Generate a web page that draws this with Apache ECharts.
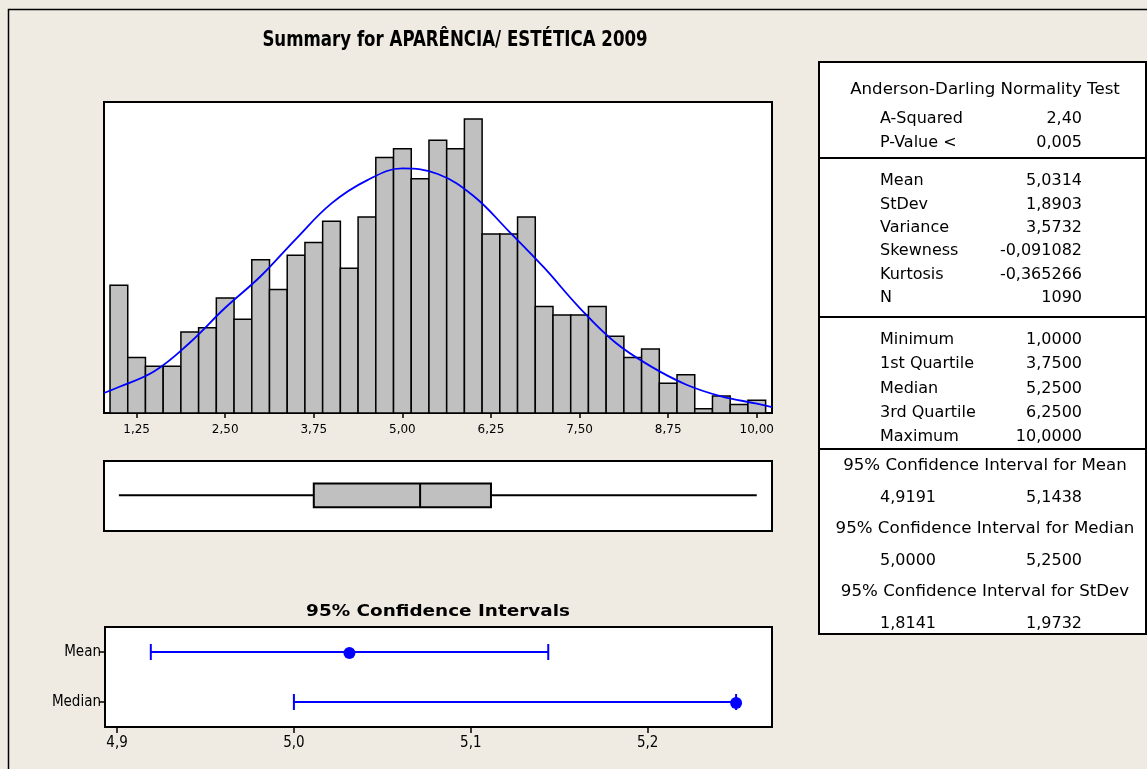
<!DOCTYPE html>
<html>
<head>
<meta charset="utf-8">
<script src="https://cdn.jsdelivr.net/npm/echarts@6/dist/echarts.min.js"></script>
<style>
  html, body { margin: 0; padding: 0; background: #efebe2; }
  #chart { width: 1147px; height: 769px; }
</style>
</head>
<body>
<div id="chart"></div>
<script>
// histogram: bin centres and counts (N = 1090)
var binWidth = 0.25;
var binCentres = [1.00, 1.25, 1.50, 1.75, 2.00, 2.25, 2.50, 2.75, 3.00, 3.25,
  3.50, 3.75, 4.00, 4.25, 4.50, 4.75, 5.00, 5.25, 5.50, 5.75, 6.00, 6.25,
  6.50, 6.75, 7.00, 7.25, 7.50, 7.75, 8.00, 8.25, 8.50, 8.75, 9.00, 9.25,
  9.50, 9.75, 10.00];
var binCounts = [30, 13, 11, 11, 19, 20, 27, 22, 36, 29, 37, 40, 45, 34, 46,
  60, 62, 55, 64, 62, 69, 42, 42, 46, 25, 23, 23, 25, 18, 13, 15, 7, 9, 1, 4, 2, 3];

// fitted normal curve
var curveX = [0.79, 1.0, 1.5, 2.0, 2.5, 3.0, 3.5, 4.0, 4.5, 5.0, 5.5, 6.0,
  6.5, 7.0, 7.5, 8.0, 8.5, 9.0, 9.5, 10.0, 10.215];
var curveY = [4.7, 6.1, 9.8, 16.5, 24.7, 32.1, 40.9, 49.2, 54.6, 57.4, 56.1,
  51.0, 42.7, 34.1, 24.7, 16.6, 11.0, 6.7, 3.9, 2.2, 1.4];

var histTicks = [1.25, 2.50, 3.75, 5.00, 6.25, 7.50, 8.75, 10.00];

// boxplot: min, Q1, median, Q3, max
var boxStats = [1.0, 3.75, 5.25, 6.25, 10.0];

// 95% confidence intervals: low, high, estimate
var ciNames = ['Median', 'Mean'];
var ciLow = [5.0, 4.9191];
var ciHigh = [5.25, 5.1438];
var ciEst = [5.25, 5.0314];
var ciTicks = [4.9, 5.0, 5.1, 5.2];

// summary table
var adLabels = ['A-Squared', 'P-Value <'];
var adValues = ['2,40', '0,005'];
var momLabels = ['Mean', 'StDev', 'Variance', 'Skewness', 'Kurtosis', 'N'];
var momValues = ['5,0314', '1,8903', '3,5732', '-0,091082', '-0,365266', '1090'];
var qLabels = ['Minimum', '1st Quartile', 'Median', '3rd Quartile', 'Maximum'];
var qValues = ['1,0000', '3,7500', '5,2500', '6,2500', '10,0000'];
var ciTitles = ['95% Confidence Interval for Mean', '95% Confidence Interval for Median',
  '95% Confidence Interval for StDev'];
var ciTableLow = ['4,9191', '5,0000', '1,8141'];
var ciTableHigh = ['5,1438', '5,2500', '1,9732'];

var narrow = "'Liberation Sans Narrow', 'DejaVu Sans Condensed', sans-serif";
var tableFont = "16px 'DejaVu Sans', sans-serif";

function comma(v, d) {
  return v.toFixed(d).replace('.', ',');
}

function txt(s, x, y, align, font, sx) {
  return {
    type: 'text', x: x, y: y, silent: true, scaleX: sx || 1,
    style: {
      text: s, fill: '#000', font: font || tableFont,
      align: align, textAlign: align, verticalAlign: 'middle', textVerticalAlign: 'middle'
    }
  };
}

function hline(y) {
  return { type: 'line', silent: true, shape: { x1: 819, y1: y, x2: 1146, y2: y },
    style: { stroke: '#000', lineWidth: 2 } };
}

// build table graphics
var tableEls = [];
tableEls.push({ type: 'rect', silent: true, shape: { x: 819, y: 62, width: 327, height: 572 },
  style: { fill: '#fff', stroke: '#000', lineWidth: 2 } });
tableEls.push(txt('Anderson-Darling Normality Test', 985, 90, 'center', null, 1.04));
adLabels.forEach(function (l, i) {
  tableEls.push(txt(l, 880, 119 + i * 24, 'left'));
  tableEls.push(txt(adValues[i], 1082, 119 + i * 24, 'right'));
});
tableEls.push(hline(158));
momLabels.forEach(function (l, i) {
  tableEls.push(txt(l, 880, 181 + i * 23.4, 'left'));
  tableEls.push(txt(momValues[i], 1082, 181 + i * 23.4, 'right'));
});
tableEls.push(hline(317));
qLabels.forEach(function (l, i) {
  tableEls.push(txt(l, 880, 340 + i * 24.2, 'left'));
  tableEls.push(txt(qValues[i], 1082, 340 + i * 24.2, 'right'));
});
tableEls.push(hline(449));
ciTitles.forEach(function (t, i) {
  var y0 = 466 + i * 63;
  tableEls.push(txt(t, 985, y0, 'center', null, 1.04));
  tableEls.push(txt(ciTableLow[i], 880, y0 + 32, 'left'));
  tableEls.push(txt(ciTableHigh[i], 1082, y0 + 32, 'right'));
});

var chart = echarts.init(document.getElementById('chart'));

var option = {
  backgroundColor: '#efebe2',
  animation: false,
  grid: [
    { left: 104, top: 102, width: 668, height: 311, show: true, backgroundColor: '#fff',
      borderColor: '#000', borderWidth: 2 },
    { left: 104, top: 461, width: 668, height: 70, show: true, backgroundColor: '#fff',
      borderColor: '#000', borderWidth: 2 },
    { left: 105, top: 627, width: 667, height: 100, show: true, backgroundColor: '#fff',
      borderColor: '#000', borderWidth: 2 }
  ],
  xAxis: [
    { type: 'value', gridIndex: 0, min: 0.79, max: 10.215,
      splitLine: { show: false },
      axisLine: { show: true, lineStyle: { color: '#000', width: 2 } },
      axisTick: { show: true, length: 5, customValues: histTicks, lineStyle: { color: '#000', width: 1.5 } },
      axisLabel: { customValues: histTicks, margin: 11, color: '#000',
        fontFamily: 'DejaVu Sans', fontSize: 12,
        formatter: function (v) { return comma(v, 2); } } },
    { type: 'value', gridIndex: 1, min: 0.79, max: 10.215, show: false },
    { type: 'value', gridIndex: 2, min: 4.8932, max: 5.2703,
      splitLine: { show: false },
      axisLine: { show: true, lineStyle: { color: '#000', width: 2 } },
      axisTick: { show: true, length: 6, customValues: ciTicks, lineStyle: { color: '#000', width: 1.5 } },
      axisLabel: { customValues: ciTicks, margin: 9, color: '#000',
        fontFamily: narrow, fontSize: 15,
        formatter: function (v) { return comma(v, 1); } } }
  ],
  yAxis: [
    { type: 'value', gridIndex: 0, min: 0, max: 73, show: false },
    { type: 'value', gridIndex: 1, min: 0, max: 1, show: false },
    { type: 'category', gridIndex: 2, data: ciNames,
      axisLine: { show: true, lineStyle: { color: '#000', width: 2 } },
      axisTick: { show: true, length: 6, alignWithLabel: true, lineStyle: { color: '#000', width: 1.5 } },
      axisLabel: { color: '#000', fontFamily: narrow, fontSize: 15, margin: 4 } }
  ],
  graphic: [
    { type: 'rect', silent: true, shape: { x: 8.5, y: 9.5, width: 1200, height: 800 },
      style: { fill: 'none', stroke: '#000', lineWidth: 1.5 } },
    txt('Summary for APARÊNCIA/ ESTÉTICA 2009', 455, 41, 'center',
      "bold 21px " + narrow, 0.88),
    txt('95% Confidence Intervals', 438, 612, 'center',
      "bold 16px 'DejaVu Sans', sans-serif", 1.15)
  ].concat(tableEls),
  series: [
    {
      type: 'custom', xAxisIndex: 0, yAxisIndex: 0, clip: true,
      data: binCentres.map(function (c, i) { return [c, binCounts[i]]; }),
      renderItem: function (params, api) {
        var x = api.value(0), n = api.value(1);
        var p0 = api.coord([x - binWidth / 2, n]);
        var p1 = api.coord([x + binWidth / 2, 0]);
        return { type: 'rect',
          shape: { x: p0[0], y: p0[1], width: p1[0] - p0[0], height: p1[1] - p0[1] },
          style: { fill: '#c0c0c0', stroke: '#000', lineWidth: 1.5 } };
      }
    },
    {
      type: 'line', xAxisIndex: 0, yAxisIndex: 0, smooth: 0.4, showSymbol: false,
      data: curveX.map(function (x, i) { return [x, curveY[i]]; }),
      lineStyle: { color: '#0000ff', width: 1.8 }, z: 3
    },
    {
      type: 'custom', xAxisIndex: 1, yAxisIndex: 1,
      data: [boxStats],
      renderItem: function (params, api) {
        var lo = api.coord([api.value(0), 0.51]);
        var q1 = api.coord([api.value(1), 0.68]);
        var md = api.coord([api.value(2), 0.34]);
        var q3 = api.coord([api.value(3), 0.34]);
        var hi = api.coord([api.value(4), 0.51]);
        var lineSt = { stroke: '#000', lineWidth: 2 };
        return { type: 'group', children: [
          { type: 'line', shape: { x1: lo[0], y1: lo[1], x2: q1[0], y2: lo[1] }, style: lineSt },
          { type: 'line', shape: { x1: q3[0], y1: hi[1], x2: hi[0], y2: hi[1] }, style: lineSt },
          { type: 'rect', shape: { x: q1[0], y: q1[1], width: q3[0] - q1[0], height: q3[1] - q1[1] },
            style: { fill: '#c0c0c0', stroke: '#000', lineWidth: 2 } },
          { type: 'line', shape: { x1: md[0], y1: q1[1], x2: md[0], y2: md[1] }, style: lineSt }
        ] };
      }
    },
    {
      type: 'custom', xAxisIndex: 2, yAxisIndex: 2,
      data: ciNames.map(function (n, i) { return [i, ciLow[i], ciHigh[i], ciEst[i]]; }),
      renderItem: function (params, api) {
        var c = api.value(0);
        var a = api.coord([api.value(1), c]);
        var b = api.coord([api.value(2), c]);
        var e = api.coord([api.value(3), c]);
        var st = { stroke: '#0000ff', lineWidth: 2 };
        return { type: 'group', children: [
          { type: 'line', shape: { x1: a[0], y1: a[1], x2: b[0], y2: b[1] }, style: st },
          { type: 'line', shape: { x1: a[0], y1: a[1] - 8, x2: a[0], y2: a[1] + 8 }, style: st },
          { type: 'line', shape: { x1: b[0], y1: b[1] - 8, x2: b[0], y2: b[1] + 8 }, style: st },
          { type: 'circle', shape: { cx: e[0], cy: e[1] + 1, r: 6 }, style: { fill: '#0000ff' } }
        ] };
      }
    }
  ]
};

chart.setOption(option);
</script>
</body>
</html>
